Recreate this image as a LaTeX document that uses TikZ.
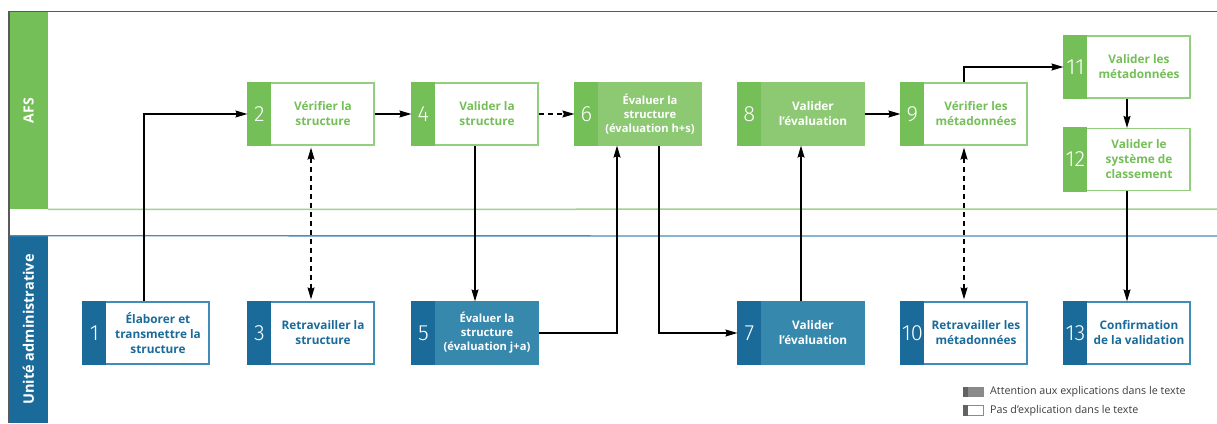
\documentclass[tikz,border=0pt]{standalone}
\usepackage{fontspec}
\setmainfont{Open Sans}
\newfontfamily\numfont{Fira Sans Light}
\usetikzlibrary{arrows.meta}
\definecolor{agreen}{HTML}{74BF57}
\definecolor{lgreen}{HTML}{93CF7E}
\definecolor{gbody}{HTML}{8DC973}
\definecolor{ablue}{HTML}{1A6B9A}
\definecolor{bbody}{HTML}{3688AD}
\definecolor{bborder}{HTML}{3F8DB8}
\definecolor{laneblue}{HTML}{4A8DBB}
\definecolor{lanegreen}{HTML}{9DD38A}
\definecolor{framegray}{HTML}{5A5A5A}
\definecolor{legtext}{HTML}{3C3C3C}
\definecolor{leggray}{HTML}{8A8A8A}
\definecolor{legdark}{HTML}{626262}
\tikzset{
  gw/.style={/utils/exec={\colorlet{strip}{agreen}\colorlet{body}{white}\colorlet{bord}{lgreen}\colorlet{txt}{agreen}}},
  gf/.style={/utils/exec={\colorlet{strip}{agreen}\colorlet{body}{gbody}\colorlet{bord}{gbody}\colorlet{txt}{white}}},
  bw/.style={/utils/exec={\colorlet{strip}{ablue}\colorlet{body}{white}\colorlet{bord}{bborder}\colorlet{txt}{ablue}}},
  bf/.style={/utils/exec={\colorlet{strip}{ablue}\colorlet{body}{bbody}\colorlet{bord}{bbody}\colorlet{txt}{white}}},
  boxshape/.style={draw=bord, fill=body, line width=1.2pt, minimum width=126pt, minimum height=62pt, inner sep=0pt},
  numlabel/.style={text=white, font=\numfont\fontsize{22}{22}\selectfont, inner sep=0pt},
  boxtext/.style={text=txt, align=center, font=\bfseries\fontsize{11.8}{15}\selectfont, inner sep=0pt},
  smalltext/.style={text=txt, align=center, font=\bfseries\fontsize{11.2}{14}\selectfont, inner sep=0pt},
  flow/.style={draw=black, line width=1.3pt, -{Stealth[length=12pt,width=7pt,inset=1.5pt]}},
  dflow/.style={draw=black, line width=1.3pt, dash pattern=on 5pt off 4pt, {Stealth[length=12pt,width=7pt,inset=1.5pt]}-{Stealth[length=12pt,width=7pt,inset=1.5pt]}, shorten <=2pt, shorten >=2pt},
  lanelabel/.style={text=white, font=\bfseries\fontsize{14}{14}\selectfont, rotate=90, inner sep=0pt},
  legendtext/.style={text=legtext, font=\fontsize{10.7}{10.7}\selectfont, anchor=west, inner sep=0pt}
}
% #1 name, #2 cx, #3 cy, #4 kind, #5 number, #6 text style, #7 text
\newcommand{\procbox}[7]{%
  \begin{scope}[#4]
    \node[boxshape] (#1) at (#2,#3) {};
    \fill[strip] ([xshift=-0.6pt,yshift=0.6pt]#1.north west) rectangle ([xshift=24pt,yshift=-0.6pt]#1.south west);
    \node[numlabel] (#1num) at ([xshift=12pt]#1.west) {#5};
    \node[#6] (#1txt) at ([xshift=12pt]#1.center) {#7};
  \end{scope}}
\begin{document}
\begin{tikzpicture}[x=1pt,y=-1pt]
\useasboundingbox (0,0) rectangle (1217,423);
% lanes
\node[fill=agreen, minimum width=39pt, minimum height=197.5pt, inner sep=0pt] (afsbar) at (28.5,110.5) {};
\node[lanelabel] (afslabel) at (afsbar) {AFS};
\node[fill=ablue, minimum width=39pt, minimum height=187pt, inner sep=0pt] (uabar) at (28.5,329.5) {};
\node[lanelabel, font=\bfseries\fontsize{14.5}{14.5}\selectfont] (ualabel) at (uabar) {Unité administrative};
\draw[lanegreen, line width=1.5pt] (afsbar.south east) -- (1217,209);
\draw[laneblue, line width=1.3pt] (uabar.north west) -- (1217,236);
\draw[framegray, line width=1.5pt] (9,423) -- (9,11.5) -- (1217,11.5);
% boxes
\procbox{b1}{146}{333}{bw}{1}{boxtext}{Élaborer et\\transmettre la\\structure}
\procbox{b2}{311}{114}{gw}{2}{boxtext}{Vérifier la\\structure}
\procbox{b3}{311}{333}{bw}{3}{boxtext}{Retravailler la\\structure}
\procbox{b4}{475}{114}{gw}{4}{boxtext}{Valider la\\structure}
\procbox{b5}{475}{333}{bf}{5}{smalltext}{Évaluer la\\structure\\(évaluation j+a)}
\procbox{b6}{638}{114}{gf}{6}{smalltext}{Évaluer la\\structure\\(évaluation h+s)}
\procbox{b7}{801}{333}{bf}{7}{boxtext}{Valider\\l’évaluation}
\procbox{b8}{801}{114}{gf}{8}{boxtext}{Valider\\l’évaluation}
\procbox{b9}{964}{114}{gw}{9}{boxtext}{Vérifier les\\métadonnées}
\procbox{b10}{964}{333}{bw}{10}{boxtext}{Retravailler les\\métadonnées}
\procbox{b11}{1127}{67}{gw}{11}{boxtext}{Valider les\\métadonnées}
\procbox{b12}{1127}{159.5}{gw}{12}{boxtext}{Valider le\\système de\\classement}
\procbox{b13}{1127}{333}{bw}{13}{boxtext}{Confirmation\\de la validation}
% connectors
\draw[flow] ([xshift=-2pt]b1.north) |- (b2.west);
\draw[dflow] (b2.south) -- (b3.north);
\draw[flow] (b2.east) -- (b4.west);
\draw[flow, dash pattern=on 5pt off 4pt] (b4.east) -- (b6.west);
\draw[flow] (b4.south) -- (b5.north);
\draw[flow] (b5.east) -| ([xshift=-21pt]b6.south);
\draw[flow] ([xshift=21pt]b6.south) |- (b7.west);
\draw[flow] (b7.north) -- (b8.south);
\draw[flow] (b8.east) -- (b9.west);
\draw[dflow] (b9.south) -- (b10.north);
\draw[flow] (b9.north) |- (b11.west);
\draw[flow] (b11.south) -- (b12.north);
\draw[flow] (b12.south) -- (b13.north);
% legend
\fill[leggray] (963,387) rectangle (984,397);
\fill[legdark] (963,387) rectangle (968,397);
\node[legendtext] (leg1) at (990,392) {Attention aux explications dans le texte};
\draw[leggray, line width=0.8pt, fill=white] (963.4,405.4) rectangle (983.6,415.6);
\fill[legdark] (963,405) rectangle (968,416);
\node[legendtext] (leg2) at (990,410.5) {Pas d’explication dans le texte};
\end{tikzpicture}
\end{document}
